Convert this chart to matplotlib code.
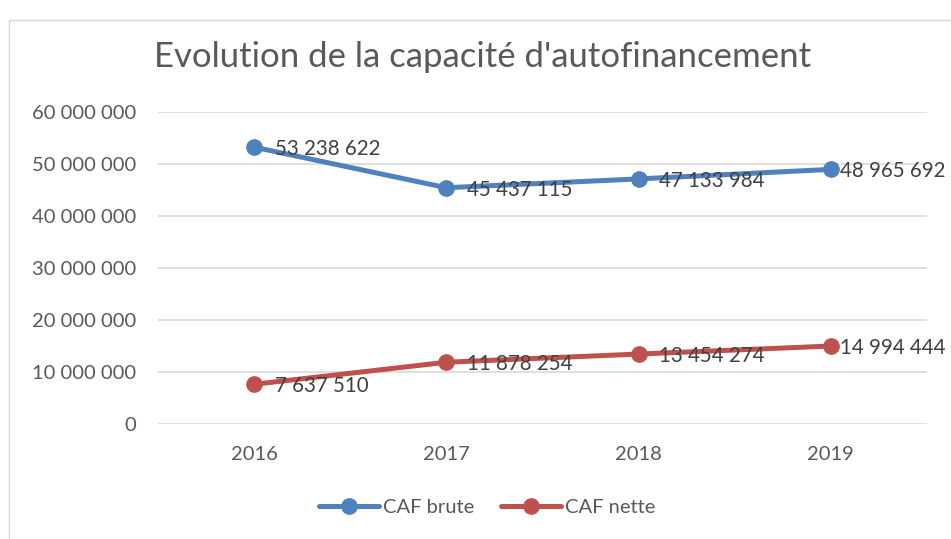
import matplotlib
matplotlib.use("Agg")
import matplotlib.pyplot as plt
from matplotlib.ticker import FuncFormatter, MultipleLocator
from matplotlib.patches import Rectangle

years = ["2016", "2017", "2018", "2019"]
caf_brute = [53238622, 45437115, 47133984, 48965692]
caf_nette = [7637510, 11878254, 13454274, 14994444]
series_names = ["CAF brute", "CAF nette"]
title = "Evolution de la capacité d'autofinancement"

plt.rcParams['font.family'] = ['Lato', 'DejaVu Sans']

def fmt(v):
    return f"{int(round(v)):,}".replace(",", " ")

fig = plt.figure(figsize=(9.51, 5.39), dpi=100)
W, H = 951, 539
ax = fig.add_axes([158 / W, 1 - 424 / H, (927 - 158) / W, (424 - 112) / H])

fig.patches.append(Rectangle((9 / W, -0.1), 2, 1 - 20 / H + 0.1, transform=fig.transFigure,
                             fill=False, edgecolor="#d9d9d9", linewidth=1.0))

x = list(range(len(years)))
colors = ["#4F81BD", "#C0504D"]
for vals, name, c in zip([caf_brute, caf_nette], series_names, colors):
    ax.plot(x, vals, color=c, linewidth=3.6, marker="o", markersize=11,
            label=name, solid_capstyle="round", zorder=3)
    for xi, v in zip(x, vals):
        # Excel pulls the last label left to keep it inside the chart area
        dx = 15 if xi < len(years) - 1 else 6.5
        ax.annotate(fmt(v), (xi, v), xytext=(dx, -1.5), textcoords="offset points",
                    ha="left", va="center", fontsize=14.8, color="#404040", zorder=4)

ax.set_xlim(-0.5, len(years) - 0.5)
ax.set_ylim(0, 60000000)
ax.yaxis.set_major_locator(MultipleLocator(10000000))
ax.yaxis.set_major_formatter(FuncFormatter(lambda v, p: fmt(v)))
ax.set_xticks(x)
ax.set_xticklabels(years)
ax.grid(axis="y", color="#d9d9d9", linewidth=1.2)
ax.set_axisbelow(True)
for s in ax.spines.values():
    s.set_visible(False)
ax.tick_params(axis="both", length=0, labelsize=14.5, labelcolor="#595959")
ax.tick_params(axis="y", pad=16)
ax.tick_params(axis="x", pad=16)

fig.text(483 / W, 1 - 57 / H, title, ha="center", va="center", fontsize=25, color="#595959")

leg = fig.legend(loc="center", bbox_to_anchor=(487 / W, 1 - 507 / H), ncol=2, frameon=False,
                 fontsize=14.5, handlelength=3.0, handletextpad=0.2, columnspacing=1.3)
for t in leg.get_texts():
    t.set_color("#595959")

fig.savefig("out.png", dpi=100)
